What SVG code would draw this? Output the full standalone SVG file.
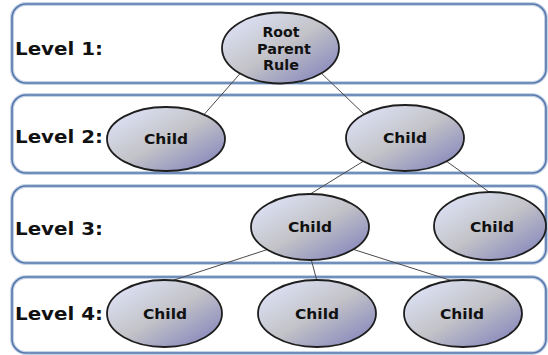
<svg xmlns="http://www.w3.org/2000/svg" width="548" height="355" viewBox="0 0 548 355">
  <defs>
    <linearGradient id="nodeFill" x1="0" y1="0" x2="1" y2="1">
      <stop offset="0" stop-color="#e2e8ff"/>
      <stop offset="0.5" stop-color="#c3c3c8"/>
      <stop offset="1" stop-color="#7b7cba"/>
    </linearGradient>
    <style>
      .band-halo { fill: none; stroke: #c4d2e6; stroke-width: 4; }
      .band { fill: none; stroke: #5677ab; stroke-width: 1.6; }
      .level { font-family: "DejaVu Sans", Verdana, sans-serif; font-weight: bold; font-size: 17px; fill: #111; }
      .node ellipse { fill: url(#nodeFill); stroke: #1e1e1e; stroke-width: 1.8; }
      .node text { font-family: "DejaVu Sans", Verdana, sans-serif; font-weight: bold; font-size: 14px; fill: #111; text-anchor: middle; }
      .edge { stroke: #4a4a4a; stroke-width: 1; fill: none; }
    </style>
  </defs>
  <rect width="548" height="355" fill="#ffffff"/>

  <!-- level bands -->
  <g id="bands">
    <rect class="band-halo" x="12" y="4" width="534" height="79" rx="14"/>
    <rect class="band" x="12" y="4" width="534" height="79" rx="14"/>
    <rect class="band-halo" x="12" y="95" width="534" height="78" rx="14"/>
    <rect class="band" x="12" y="95" width="534" height="78" rx="14"/>
    <rect class="band-halo" x="12" y="186" width="534" height="77" rx="14"/>
    <rect class="band" x="12" y="186" width="534" height="77" rx="14"/>
    <rect class="band-halo" x="12" y="277" width="534" height="76" rx="14"/>
    <rect class="band" x="12" y="277" width="534" height="76" rx="14"/>
    <text class="level" x="15" y="55" textLength="88" lengthAdjust="spacingAndGlyphs">Level 1:</text>
    <text class="level" x="15" y="143" textLength="88" lengthAdjust="spacingAndGlyphs">Level 2:</text>
    <text class="level" x="15" y="235" textLength="88" lengthAdjust="spacingAndGlyphs">Level 3:</text>
    <text class="level" x="15" y="320" textLength="88" lengthAdjust="spacingAndGlyphs">Level 4:</text>
  </g>

  <!-- connectors -->
  <g id="connectors">
    <line class="edge" x1="245" y1="68" x2="201" y2="118"/>
    <line class="edge" x1="319" y1="71" x2="367" y2="117"/>
    <line class="edge" x1="367" y1="159" x2="307" y2="196"/>
    <line class="edge" x1="442" y1="158" x2="496" y2="197"/>
    <line class="edge" x1="272" y1="248" x2="165" y2="283"/>
    <line class="edge" x1="310" y1="255" x2="318" y2="285"/>
    <line class="edge" x1="349" y1="248" x2="462" y2="284"/>
  </g>

  <!-- nodes -->
  <g id="root" class="node">
    <ellipse cx="280.5" cy="48" rx="58.5" ry="35.5"/>
    <text x="281" y="37" textLength="37" lengthAdjust="spacingAndGlyphs">Root</text>
    <text x="284" y="53.5" textLength="54" lengthAdjust="spacingAndGlyphs">Parent</text>
    <text x="281" y="70" textLength="36" lengthAdjust="spacingAndGlyphs">Rule</text>
  </g>
  <g id="l2-child-a" class="node">
    <ellipse cx="166" cy="139" rx="59" ry="32"/>
    <text x="166" y="143.5" textLength="44" lengthAdjust="spacingAndGlyphs">Child</text>
  </g>
  <g id="l2-child-b" class="node">
    <ellipse cx="405" cy="138" rx="59" ry="33"/>
    <text x="405" y="142.5" textLength="44" lengthAdjust="spacingAndGlyphs">Child</text>
  </g>
  <g id="l3-child-a" class="node">
    <ellipse cx="310" cy="227" rx="59" ry="33"/>
    <text x="310" y="232" textLength="44" lengthAdjust="spacingAndGlyphs">Child</text>
  </g>
  <g id="l3-child-b" class="node">
    <ellipse cx="490" cy="226" rx="56" ry="34"/>
    <text x="492" y="232" textLength="44" lengthAdjust="spacingAndGlyphs">Child</text>
  </g>
  <g id="l4-child-a" class="node">
    <ellipse cx="164.5" cy="313.5" rx="57.5" ry="33.5"/>
    <text x="165" y="318.5" textLength="44" lengthAdjust="spacingAndGlyphs">Child</text>
  </g>
  <g id="l4-child-b" class="node">
    <ellipse cx="317" cy="313.5" rx="59" ry="33.5"/>
    <text x="317" y="318.5" textLength="44" lengthAdjust="spacingAndGlyphs">Child</text>
  </g>
  <g id="l4-child-c" class="node">
    <ellipse cx="463" cy="313.5" rx="59" ry="33.5"/>
    <text x="462" y="318.5" textLength="44" lengthAdjust="spacingAndGlyphs">Child</text>
  </g>
</svg>
